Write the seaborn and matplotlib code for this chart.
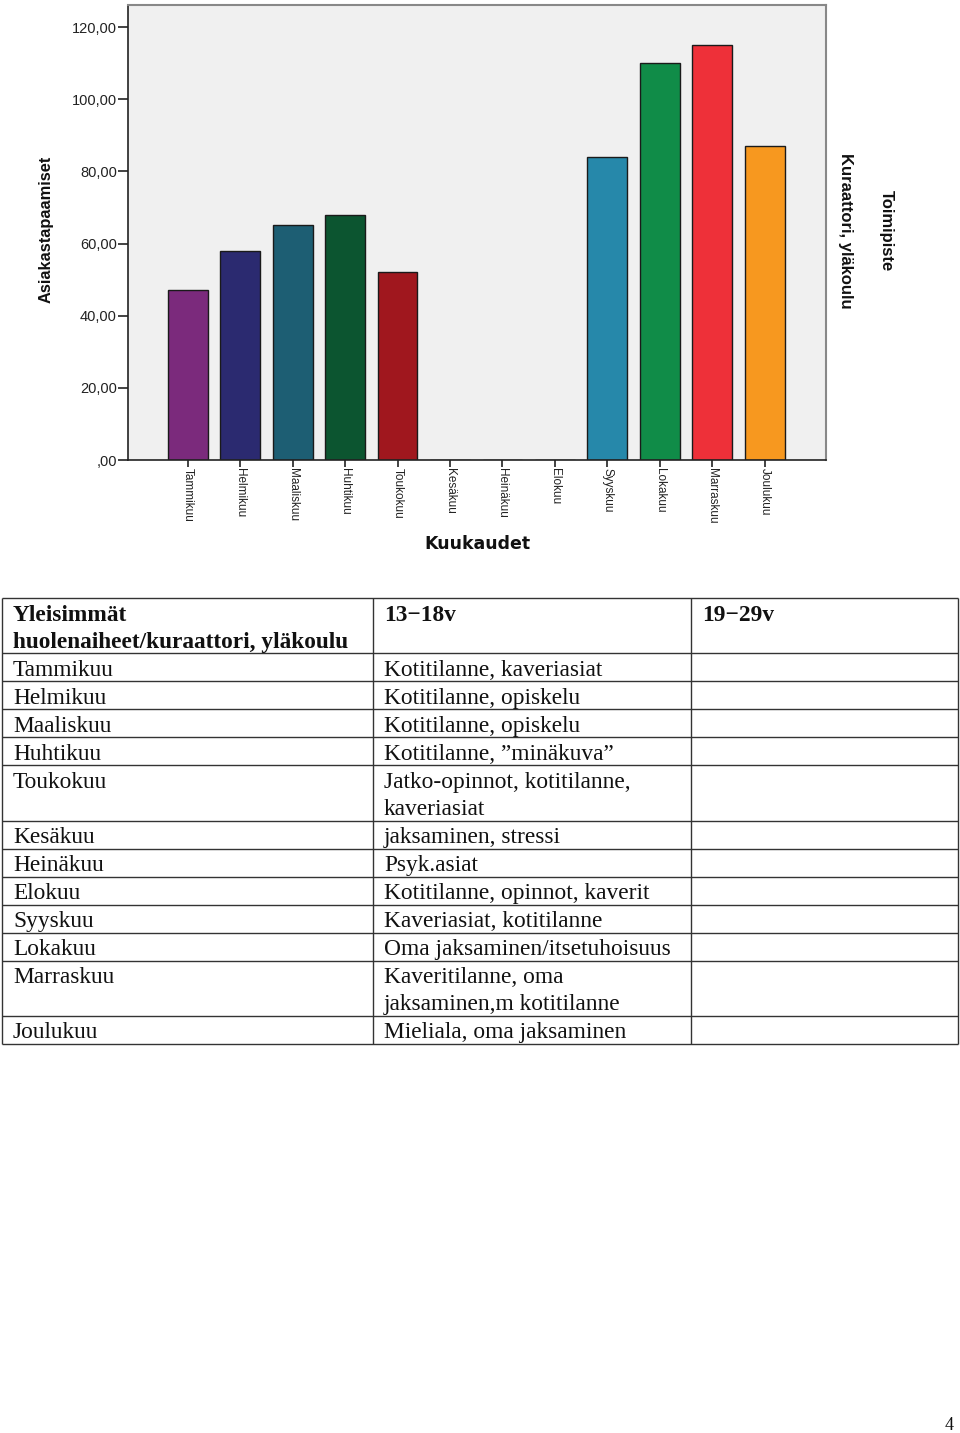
import matplotlib
matplotlib.use("Agg")
import matplotlib.pyplot as plt
import seaborn as sns
import numpy as np
from matplotlib.ticker import FuncFormatter, FixedLocator

# ---------------- data ----------------
months = ["Tammikuu", "Helmikuu", "Maaliskuu", "Huhtikuu", "Toukokuu", "Kesäkuu",
          "Heinäkuu", "Elokuu", "Syyskuu", "Lokakuu", "Marraskuu", "Joulukuu"]
visits = [47, 58, 65, 68, 52, 0, 0, 0, 84, 110, 115, 87]
bar_colors = ["#7B2A7C", "#2B2A70", "#1D5E73", "#0C5530", "#A0171E", "#999999",
              "#999999", "#999999", "#2688AA", "#108C48", "#EE3039", "#F7981F"]
y_ticks = [0, 20, 40, 60, 80, 100, 120]

y_label = "Asiakastapaamiset"
x_label = "Kuukaudet"
panel_label = "Kuraattori, yläkoulu"
panel_title = "Toimipiste"

table_header = ["Yleisimmät\nhuolenaiheet/kuraattori, yläkoulu", "13−18v", "19−29v"]
table_months = ["Tammikuu", "Helmikuu", "Maaliskuu", "Huhtikuu", "Toukokuu", "Kesäkuu",
                "Heinäkuu", "Elokuu", "Syyskuu", "Lokakuu", "Marraskuu", "Joulukuu"]
issues_13_18 = ["Kotitilanne, kaveriasiat",
                "Kotitilanne, opiskelu",
                "Kotitilanne, opiskelu",
                "Kotitilanne, ”minäkuva”",
                "Jatko-opinnot, kotitilanne,\nkaveriasiat",
                "jaksaminen, stressi",
                "Psyk.asiat",
                "Kotitilanne, opinnot, kaverit",
                "Kaveriasiat, kotitilanne",
                "Oma jaksaminen/itsetuhoisuus",
                "Kaveritilanne, oma\njaksaminen,m kotitilanne",
                "Mieliala, oma jaksaminen"]
issues_19_29 = [""] * 12
page_number = "4"

# ---------------- figure ----------------
W, H = 960, 1433
fig = plt.figure(figsize=(W / 100, H / 100), dpi=100)
fig.patch.set_facecolor("white")

sans = ["Liberation Sans", "DejaVu Sans"]
serif = ["Liberation Serif", "DejaVu Serif"]

# chart axes (pixels: x 128..826, y 5..460)
ax = fig.add_axes([128 / W, 1 - 460 / H, (826 - 128) / W, (460 - 5) / H])
ax.set_facecolor("#F0F0F0")
sns.barplot(x=months, y=visits, hue=months, palette=bar_colors, order=months,
            hue_order=months, legend=False, width=0.76, edgecolor="#1a1a1a",
            linewidth=1.0, errorbar=None, saturation=1, ax=ax)
ax.set_xlim(-1.14, 12.17)
ax.set_ylim(0, 126.1)

ax.yaxis.set_major_locator(FixedLocator(y_ticks))
ax.yaxis.set_major_formatter(FuncFormatter(lambda v, p: ("%.2f" % v).replace(".", ",").lstrip("0") if v == 0 else ("%.2f" % v).replace(".", ",")))
ax.tick_params(axis="y", length=7, width=1.2, pad=1, direction="out", colors="#222222")
ax.tick_params(axis="x", length=5, width=1.2, pad=1, direction="out", colors="#222222")
for lab in ax.get_yticklabels():
    lab.set_fontfamily(sans)
    lab.set_fontsize(10.5)
    lab.set_color("#222222")
ax.set_xticks(range(len(months)))
ax.set_xticklabels(months, rotation=-90, fontsize=8.5, fontfamily=sans, color="#222222",
                   va="top", ha="center")
ax.set_xlabel("")
ax.set_ylabel("")

for s in ["left", "bottom"]:
    ax.spines[s].set_color("#222222")
    ax.spines[s].set_linewidth(1.2)
for s in ["top", "right"]:
    ax.spines[s].set_color("#888888")
    ax.spines[s].set_linewidth(1.5)

# overlay axes in pixel coordinates for labels and table
ov = fig.add_axes([0, 0, 1, 1])
ov.set_xlim(0, W)
ov.set_ylim(H, 0)
ov.axis("off")
ov.patch.set_alpha(0)

ov.text(46, 229, y_label, rotation=90, ha="center", va="center", fontsize=11.8,
        fontweight="bold", family=sans, color="#111111")
ov.text(477, 544, x_label, ha="center", va="center", fontsize=12.5,
        fontweight="bold", family=["DejaVu Sans"], color="#111111")
ov.text(845, 231, panel_label, rotation=-90, ha="center", va="center", fontsize=12,
        fontweight="bold", family=sans, color="#111111")
ov.text(886, 231, panel_title, rotation=-90, ha="center", va="center", fontsize=12,
        fontweight="bold", family=sans, color="#111111")

# ---------------- table ----------------
col_x = [2, 373, 691, 958]
text_x = [13, 384, 702]
line_h = 27.3
top = 598
rows = [table_header] + [[m, a, b] for m, a, b in zip(table_months, issues_13_18, issues_19_29)]
y = top
hlines = [y]
fs = 16.8
for ri, row in enumerate(rows):
    nlines = max(len(c.split("\n")) for c in row)
    for ci, cell in enumerate(row):
        for li, line in enumerate(cell.split("\n")):
            ov.text(text_x[ci], y + 22.5 + li * line_h, line, ha="left", va="baseline",
                    fontsize=fs, family=serif, color="#111111",
                    fontweight="bold" if ri == 0 else "normal")
    y += 28 + line_h * (nlines - 1)
    hlines.append(y)

for hy in hlines:
    ov.plot([col_x[0], col_x[-1]], [hy, hy], color="#333333", lw=1.0, solid_capstyle="butt")
for cx in col_x:
    ov.plot([cx, cx], [hlines[0], hlines[-1]], color="#333333", lw=1.0, solid_capstyle="butt")

ov.text(949, 1425, page_number, ha="center", va="center", fontsize=13, family=serif,
        color="#111111")

fig.savefig("out.png", dpi=100)
